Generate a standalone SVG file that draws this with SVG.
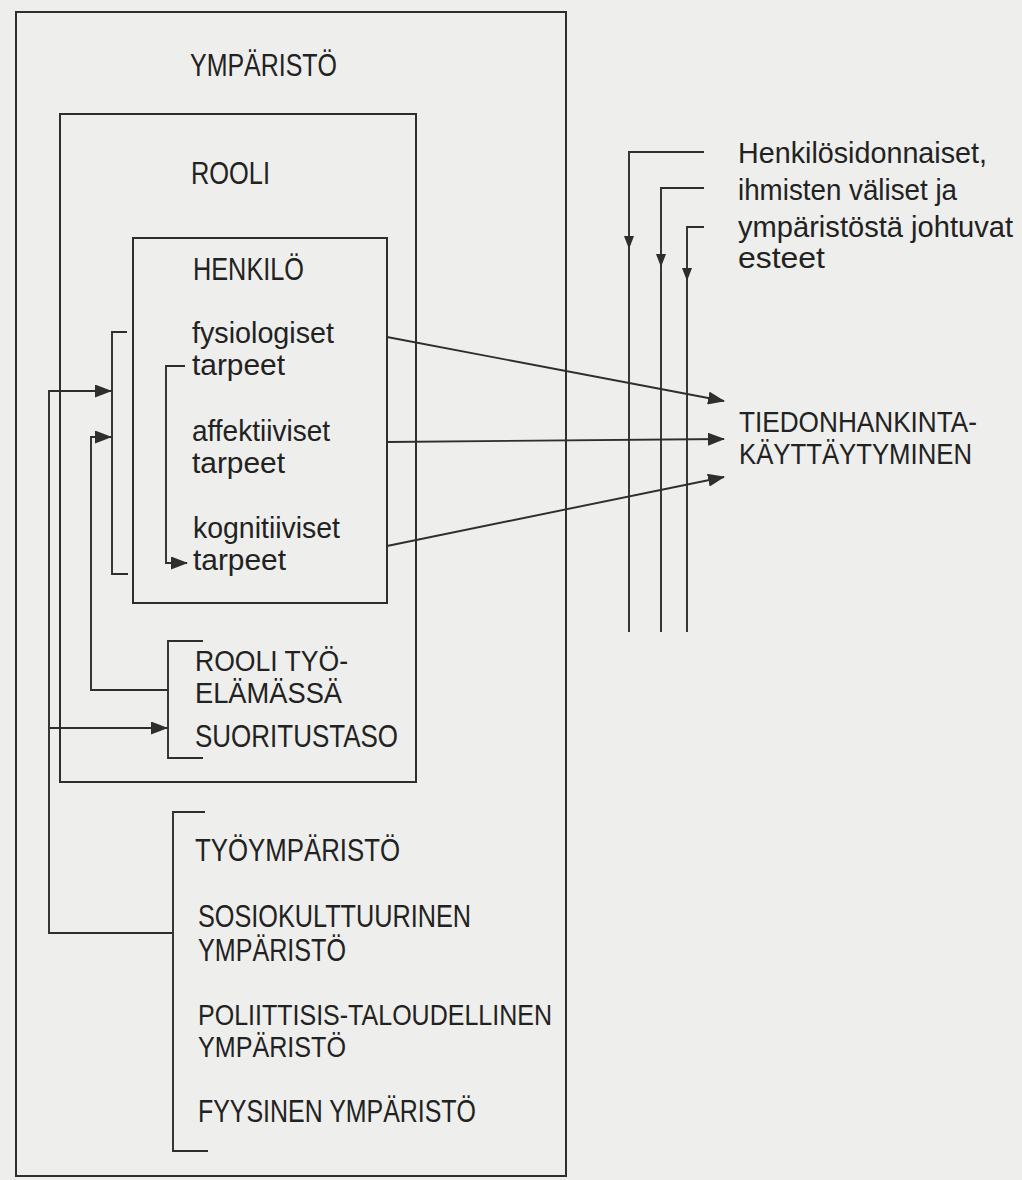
<svg xmlns="http://www.w3.org/2000/svg" width="1022" height="1180" viewBox="0 0 1022 1180">
  <style>
    .box { fill: none; stroke: #2e2e2e; stroke-width: 2; }
    .ln { fill: none; stroke: #2e2e2e; stroke-width: 1.9; }
    .t { font-family: "Liberation Sans", Arial, sans-serif; fill: #222; }
    .cap { font-size: 31px; }
    .cap2 { font-size: 29px; }
    .low { font-size: 30px; }
  </style>
  <defs>
    <marker id="ah" markerWidth="17" markerHeight="13" refX="16" refY="6.5" orient="auto" markerUnits="userSpaceOnUse">
      <path d="M0,0 L17,6.5 L0,13 Z" fill="#2e2e2e"/>
    </marker>
    <marker id="ahs" markerWidth="13" markerHeight="10" refX="12" refY="5" orient="auto" markerUnits="userSpaceOnUse">
      <path d="M0,0 L13,5 L0,10 Z" fill="#2e2e2e"/>
    </marker>
  </defs>
  <rect x="0" y="0" width="1022" height="1180" fill="#eeeeec"/>

  <g id="ymparisto">
    <rect class="box" x="16" y="12" width="550" height="1164"/>
    <text class="t cap" x="190" y="76" textLength="147" lengthAdjust="spacingAndGlyphs">YMPÄRISTÖ</text>
  </g>

  <g id="rooli">
    <rect class="box" x="60" y="114" width="356" height="668"/>
    <text class="t cap" x="191" y="184" textLength="79" lengthAdjust="spacingAndGlyphs">ROOLI</text>
  </g>

  <g id="henkilo">
    <rect class="box" x="133" y="238" width="254" height="365"/>
    <text class="t cap" x="193" y="280" textLength="111" lengthAdjust="spacingAndGlyphs">HENKILÖ</text>
  </g>

  <g id="fysiologiset">
    <text class="t low" x="192" y="343" textLength="142" lengthAdjust="spacingAndGlyphs">fysiologiset</text>
    <text class="t low" x="192" y="375" textLength="93" lengthAdjust="spacingAndGlyphs">tarpeet</text>
  </g>

  <g id="affektiiviset">
    <text class="t low" x="192" y="441" textLength="138" lengthAdjust="spacingAndGlyphs">affektiiviset</text>
    <text class="t low" x="192" y="473" textLength="93" lengthAdjust="spacingAndGlyphs">tarpeet</text>
  </g>

  <g id="kognitiiviset">
    <text class="t low" x="193" y="538" textLength="147" lengthAdjust="spacingAndGlyphs">kognitiiviset</text>
    <text class="t low" x="193" y="570" textLength="93" lengthAdjust="spacingAndGlyphs">tarpeet</text>
  </g>

  <g id="tyorooli">
    <text class="t cap2" x="195" y="671" textLength="153" lengthAdjust="spacingAndGlyphs">ROOLI TYÖ-</text>
    <text class="t cap2" x="195" y="703" textLength="147" lengthAdjust="spacingAndGlyphs">ELÄMÄSSÄ</text>
  </g>

  <g id="suoritustaso">
    <text class="t cap" x="195" y="747" textLength="203" lengthAdjust="spacingAndGlyphs">SUORITUSTASO</text>
  </g>

  <g id="tyoymparisto">
    <text class="t cap" x="195" y="861" textLength="205" lengthAdjust="spacingAndGlyphs">TYÖYMPÄRISTÖ</text>
  </g>

  <g id="sosiokulttuurinen">
    <text class="t cap" x="198" y="927" textLength="273" lengthAdjust="spacingAndGlyphs">SOSIOKULTTUURINEN</text>
    <text class="t cap" x="198" y="961" textLength="148" lengthAdjust="spacingAndGlyphs">YMPÄRISTÖ</text>
  </g>

  <g id="poliittisis">
    <text class="t cap2" x="198" y="1025" textLength="354" lengthAdjust="spacingAndGlyphs">POLIITTISIS-TALOUDELLINEN</text>
    <text class="t cap2" x="198" y="1057" textLength="148" lengthAdjust="spacingAndGlyphs">YMPÄRISTÖ</text>
  </g>

  <g id="fyysinen">
    <text class="t cap" x="198" y="1122" textLength="278" lengthAdjust="spacingAndGlyphs">FYYSINEN YMPÄRISTÖ</text>
  </g>

  <g id="esteet">
    <text class="t low" x="738" y="163" textLength="249" lengthAdjust="spacingAndGlyphs">Henkilösidonnaiset,</text>
    <text class="t low" x="738" y="200" textLength="219" lengthAdjust="spacingAndGlyphs">ihmisten väliset ja</text>
    <text class="t low" x="738" y="237" textLength="275" lengthAdjust="spacingAndGlyphs">ympäristöstä johtuvat</text>
    <text class="t low" x="738" y="268" textLength="87" lengthAdjust="spacingAndGlyphs">esteet</text>
  </g>

  <g id="tiedonhankinta">
    <text class="t cap2" x="739" y="432" textLength="238" lengthAdjust="spacingAndGlyphs">TIEDONHANKINTA-</text>
    <text class="t cap2" x="739" y="464" textLength="233" lengthAdjust="spacingAndGlyphs">KÄYTTÄYTYMINEN</text>
  </g>

  <g id="connectors">
    <path class="ln" d="M704,152 H629 V248" marker-end="url(#ahs)"/>
    <path class="ln" d="M629,248 V632"/>
    <path class="ln" d="M704,188 H661 V266" marker-end="url(#ahs)"/>
    <path class="ln" d="M661,266 V632"/>
    <path class="ln" d="M704,227 H687 V280" marker-end="url(#ahs)"/>
    <path class="ln" d="M687,280 V632"/>
    <path class="ln" d="M387,337 L724,401" marker-end="url(#ah)"/>
    <path class="ln" d="M387,442 L724,439" marker-end="url(#ah)"/>
    <path class="ln" d="M387,546 L724,477" marker-end="url(#ah)"/>
    <path class="ln" d="M127,332 H112 V574 H128"/>
    <path class="ln" d="M185,366 H166 V563 H187" marker-end="url(#ah)"/>
    <path class="ln" d="M203,641 H168 V758 H203"/>
    <path class="ln" d="M205,812 H173 V1151 H208"/>
    <path class="ln" d="M168,690 H91 V437 H111" marker-end="url(#ah)"/>
    <path class="ln" d="M173,933 H49 V391 H111" marker-end="url(#ah)"/>
    <path class="ln" d="M49,728 H167" marker-end="url(#ah)"/>
  </g>
</svg>
